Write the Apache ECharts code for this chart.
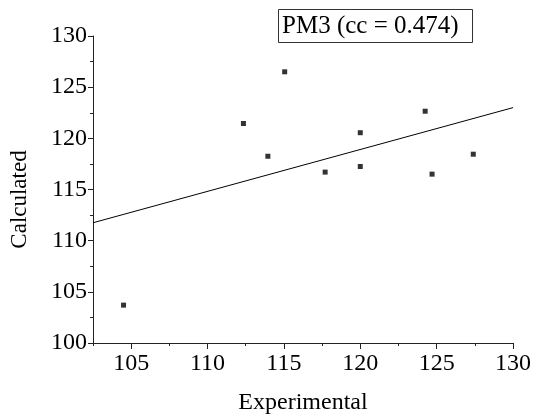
<!DOCTYPE html>
<html>
<head>
<meta charset="utf-8">
<script src="https://cdn.jsdelivr.net/npm/echarts@6/dist/echarts.min.js"></script>
<style>
  html, body { margin: 0; padding: 0; background: #fff; }
  #chart { width: 536px; height: 420px; }
</style>
</head>
<body>
<div id="chart"></div>
<script>
  // measured points (Experimental, Calculated)
  var experimental = [104.5, 112.35, 113.95, 115.05, 117.7, 120.0, 120.0, 124.25, 124.7, 127.4];
  var calculated = [103.7, 121.45, 118.25, 126.5, 116.7, 120.55, 117.25, 122.65, 116.5, 118.45];
  // fitted line, read at both ends of the x range
  var fitX = [102.5, 130];
  var fitY = [111.75, 123.0];
  var xMajorTicks = [105, 110, 115, 120, 125, 130];
  var label = 'PM3 (cc = 0.474)';

  var font = '"Liberation Serif", "Times New Roman", serif';

  var points = experimental.map(function (x, i) { return [x, calculated[i]]; });
  var fit = fitX.map(function (x, i) { return [x, fitY[i]]; });

  var chart = echarts.init(document.getElementById('chart'));
  chart.setOption({
    animation: false,
    backgroundColor: '#fff',
    title: {
      text: label,
      left: 278,
      top: 9,
      padding: [5, 14, 4, 4],
      borderColor: '#333',
      borderWidth: 1,
      textStyle: { fontFamily: font, fontSize: 25, fontWeight: 'normal', color: '#000' }
    },
    grid: { left: 93, right: 23, top: 36, bottom: 75 },
    xAxis: [{
      type: 'value',
      min: 102.5,
      max: 130,
      interval: 2.5,
      name: 'Experimental',
      nameLocation: 'middle',
      nameGap: 48,
      nameTextStyle: { fontFamily: font, fontSize: 24, color: '#000' },
      axisLine: { show: true, lineStyle: { color: '#222', width: 1 } },
      axisTick: { show: true, length: 3, lineStyle: { color: '#222' } },
      axisLabel: {
        margin: 9,
        fontFamily: font, fontSize: 24, color: '#000',
        formatter: function (v) { return v % 5 === 0 ? String(v) : ''; }
      },
      splitLine: { show: false }
    }, {
      type: 'value',
      position: 'bottom',
      min: 102.5,
      max: 130,
      axisLine: { show: false },
      axisTick: { show: true, length: 6, customValues: xMajorTicks, lineStyle: { color: '#222' } },
      axisLabel: { show: false },
      splitLine: { show: false }
    }],
    yAxis: {
      type: 'value',
      min: 100,
      max: 130,
      interval: 5,
      name: 'Calculated',
      nameLocation: 'middle',
      nameGap: 62,
      nameTextStyle: { fontFamily: font, fontSize: 23, color: '#000', padding: [0, 20, 0, 0] },
      axisLine: { show: true, lineStyle: { color: '#222', width: 1 } },
      axisTick: { show: true, length: 5, lineStyle: { color: '#222' } },
      minorTick: { show: true, splitNumber: 2, length: 3, lineStyle: { color: '#222' } },
      axisLabel: { margin: 6, fontFamily: font, fontSize: 24, color: '#000' },
      splitLine: { show: false }
    },
    series: [{
      type: 'line',
      data: fit,
      symbol: 'none',
      lineStyle: { color: '#000', width: 1 },
      z: 1
    }, {
      type: 'scatter',
      data: points,
      symbol: 'rect',
      symbolSize: 5,
      itemStyle: { color: '#000' },
      z: 2
    }]
  });
</script>
</body>
</html>
